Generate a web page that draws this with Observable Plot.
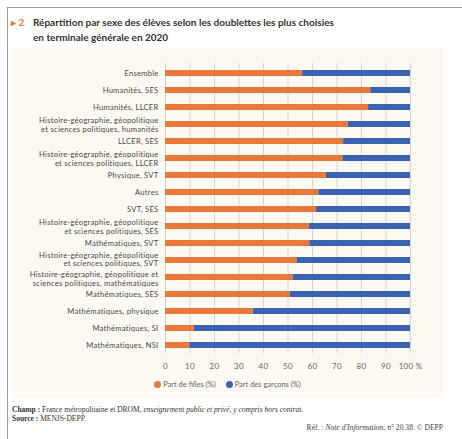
<!DOCTYPE html>
<html><head><meta charset="utf-8">
<script src="https://cdn.jsdelivr.net/npm/d3@7"></script>
<script src="https://cdn.jsdelivr.net/npm/@observablehq/plot@0.6"></script>
<style>
body{margin:0;width:462px;height:439px;overflow:hidden;background:#fff;font-family:Lato,sans-serif;position:relative}
#frame{position:absolute;left:7px;top:7px;width:470px;height:440px;border-left:1.5px solid #9c9c9c;border-top:1.5px solid #9c9c9c}
#num{position:absolute;left:11px;top:15px;font-weight:700;font-size:10px;color:#e8793a;line-height:14.5px}
#title{position:absolute;left:33px;top:15px;font-weight:700;font-size:10px;color:#333;line-height:14.5px}
#panel{position:absolute;left:12px;top:48px;width:431px;height:350px;background:#fcf8f2}
#chart{position:absolute;left:0;top:55px}
#chart svg text{letter-spacing:0.25px}
#legend{position:absolute;left:12px;width:431px;top:380px;text-align:center;font-size:7.5px;color:#666}
#legend span.dot{display:inline-block;width:7px;height:7px;border-radius:50%;vertical-align:-1px;margin-right:2px}
#legend span.item{margin:0 5px}
#caption{position:absolute;left:12px;top:405px;font-family:"Liberation Serif",serif;font-size:7.5px;color:#333;line-height:9px}
#ref{position:absolute;right:19px;top:423px;font-family:"Liberation Serif",serif;font-size:7.6px;color:#444}
</style></head>
<body>
<div id="frame"></div>
<div id="num">▸ 2</div>
<div id="title">Répartition par sexe des élèves selon les doublettes les plus choisies<br>en terminale générale en 2020</div>
<div id="panel"></div>
<div id="chart"></div>
<div id="legend"><span class="item"><span class="dot" style="background:#e8793a"></span>Part de filles (%)</span><span class="item"><span class="dot" style="background:#3a62b1"></span>Part des garçons (%)</span></div>
<div id="caption"><b>Champ :</b> France métropolitaine et DROM, <i>enseignement public et privé, y compris hors contrat.</i><br><b>Source :</b> MENJS-DEPP.</div>
<div id="ref">Réf. : <i>Note d'Information</i>, n° 20.38. © DEPP</div>
<script>
const categories = [
  "Ensemble",
  "Humanités, SES",
  "Humanités, LLCER",
  "Histoire-géographie, géopolitique\net sciences politiques, humanités",
  "LLCER, SES",
  "Histoire-géographie, géopolitique\net sciences politiques, LLCER",
  "Physique, SVT",
  "Autres",
  "SVT, SES",
  "Histoire-géographie, géopolitique\net sciences politiques, SES",
  "Mathématiques, SVT",
  "Histoire-géographie, géopolitique\net sciences politiques, SVT",
  "Histoire-géographie, géopolitique et\nsciences politiques, mathématiques",
  "Mathématiques, SES",
  "Mathématiques, physique",
  "Mathématiques, SI",
  "Mathématiques, NSI"
];
const filles =  [56.0, 83.8, 82.9, 74.6, 72.7, 72.4, 65.7, 62.6, 61.6, 58.8, 58.9, 53.7, 52.2, 50.9, 35.8, 11.8, 9.9];
const garcons = [44.0, 16.2, 17.1, 25.4, 27.3, 27.6, 34.3, 37.4, 38.4, 41.2, 41.1, 46.3, 47.8, 49.1, 64.2, 88.2, 90.1];
const series = ["Part de filles (%)", "Part des garçons (%)"];
const xTicks = [0,10,20,30,40,50,60,70,80,90,100];

const rows = [];
categories.forEach((c,i) => {
  rows.push({cat:c, serie:series[0], v:filles[i]});
  rows.push({cat:c, serie:series[1], v:garcons[i]});
});

// the two adjacent two-line labels are nudged apart, as in the reference
const upLabel = categories[11], downLabel = categories[12];
const mainLabels = categories.filter(c => c !== upLabel && c !== downLabel);
const yAxisOpts = {tickSize: 0, tickPadding: 7, fontSize: 7.6, fill: "#4a4a4a", label: null, lineHeight: 1.14};

const plot = Plot.plot({
  width: 462, height: 320,
  marginLeft: 165, marginRight: 52, marginTop: 2.5, marginBottom: 14,
  style: {background: "transparent", fontFamily: "Lato, sans-serif"},
  x: {domain: [0,100], ticks: xTicks, label: null},
  y: {domain: categories, padding: 0.65, label: null},
  color: {domain: series, range: ["#e8793a", "#3a62b1"]},
  marks: [
    Plot.gridX(xTicks, {stroke: "#d6d3cf", strokeOpacity: 1, strokeWidth: 1, insetTop: 5.5, insetBottom: 8}),
    Plot.barX(rows, Plot.stackX({x: "v", y: "cat", fill: "serie", order: series})),
    Plot.axisX(xTicks, {tickSize: 0, tickPadding: 2, fontSize: 8, fill: "#666", label: null,
      tickFormat: d => d === 100 ? "100 %" : String(d)}),
    Plot.axisY(mainLabels, yAxisOpts),
    Plot.axisY([upLabel], {...yAxisOpts, dy: -1.2}),
    Plot.axisY([downLabel], {...yAxisOpts, dy: 1.2})
  ]
});
document.getElementById("chart").appendChild(plot);
</script>
</body></html>
